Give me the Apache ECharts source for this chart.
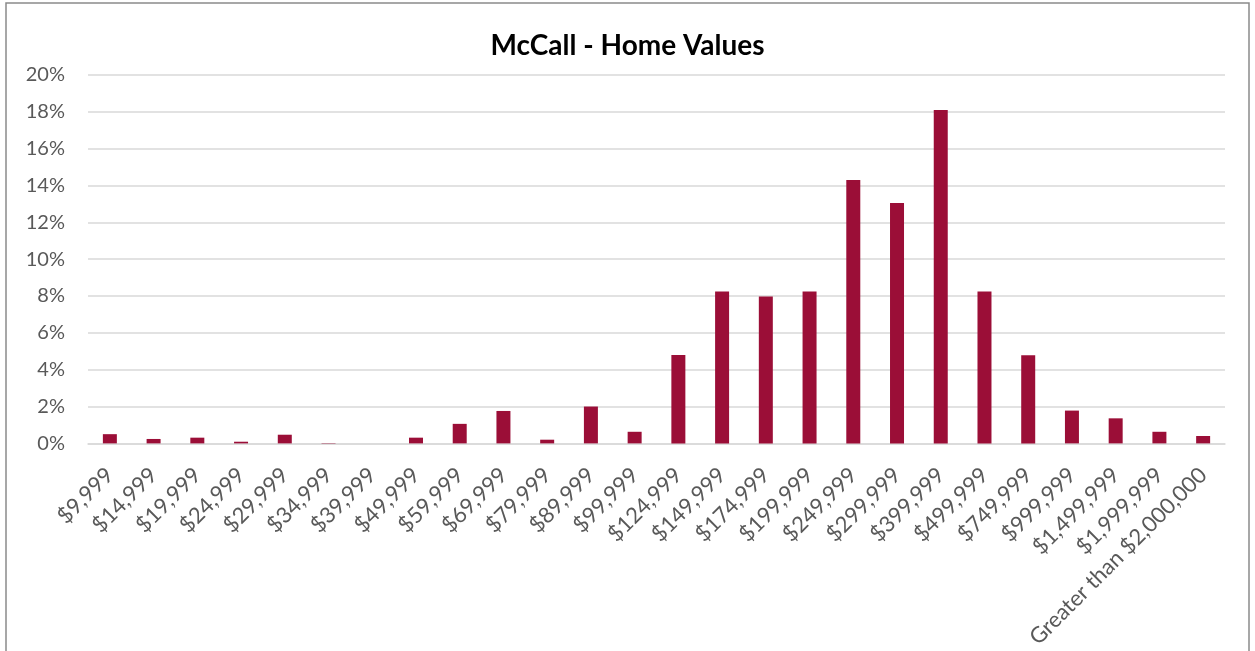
<!DOCTYPE html>
<html>
<head>
<meta charset="utf-8">
<script src="https://cdn.jsdelivr.net/npm/echarts@6/dist/echarts.min.js"></script>
<style>
  html, body { margin: 0; padding: 0; background: #fff; }
  #chart { width: 1255px; height: 651px; }
</style>
</head>
<body>
<div id="chart"></div>
<script>
// Home value brackets (upper bound of each range)
const categories = [
  '$9,999', '$14,999', '$19,999', '$24,999', '$29,999', '$34,999', '$39,999',
  '$49,999', '$59,999', '$69,999', '$79,999', '$89,999', '$99,999', '$124,999',
  '$149,999', '$174,999', '$199,999', '$249,999', '$299,999', '$399,999',
  '$499,999', '$749,999', '$999,999', '$1,499,999', '$1,999,999',
  'Greater than $2,000,000'
];

// Share of owner-occupied homes in each bracket (percent)
const shares = [
  0.50, 0.24, 0.31, 0.09, 0.47, 0.02, 0.00,
  0.31, 1.06, 1.76, 0.20, 2.00, 0.63, 4.80,
  8.25, 7.97, 8.25, 14.30, 13.05, 18.10,
  8.25, 4.78, 1.78, 1.36, 0.63,
  0.40
];

const yTicks = { min: 0, max: 20, interval: 2 };

const labelFont = 'Lato, "Open Sans", sans-serif';

const chart = echarts.init(document.getElementById('chart'), null, { renderer: 'canvas' });

chart.setOption({
  animation: false,
  backgroundColor: '#ffffff',
  title: {
    text: 'McCall - Home Values',
    left: 'center',
    top: 27,
    textStyle: {
      fontFamily: labelFont,
      fontWeight: 'bold',
      fontSize: 28,
      color: '#000000'
    }
  },
  graphic: [{
    type: 'rect',
    shape: { x: 6, y: 3, width: 1243, height: 660 },
    style: { fill: 'none', stroke: '#8a8a8a', lineWidth: 1.5 },
    silent: true,
    z: 10
  }],
  grid: { left: 88, right: 30, top: 75, bottom: 205, containLabel: false },
  xAxis: {
    type: 'category',
    data: categories,
    axisLine: { show: true, lineStyle: { color: '#d9d9d9', width: 1.5 } },
    axisTick: { show: false },
    axisLabel: {
      interval: 0,
      rotate: 45,
      margin: 28,
      color: '#595959',
      fontFamily: labelFont,
      fontSize: 22
    }
  },
  yAxis: {
    type: 'value',
    min: yTicks.min,
    max: yTicks.max,
    interval: yTicks.interval,
    axisLine: { show: false },
    axisTick: { show: false },
    splitLine: { lineStyle: { color: '#d9d9d9', width: 1.5 } },
    axisLabel: {
      formatter: '{value}%',
      margin: 23,
      color: '#595959',
      fontFamily: labelFont,
      fontSize: 20
    }
  },
  series: [{
    type: 'bar',
    data: shares,
    barWidth: '32%',
    itemStyle: { color: '#9b0e37' }
  }]
});
</script>
</body>
</html>
